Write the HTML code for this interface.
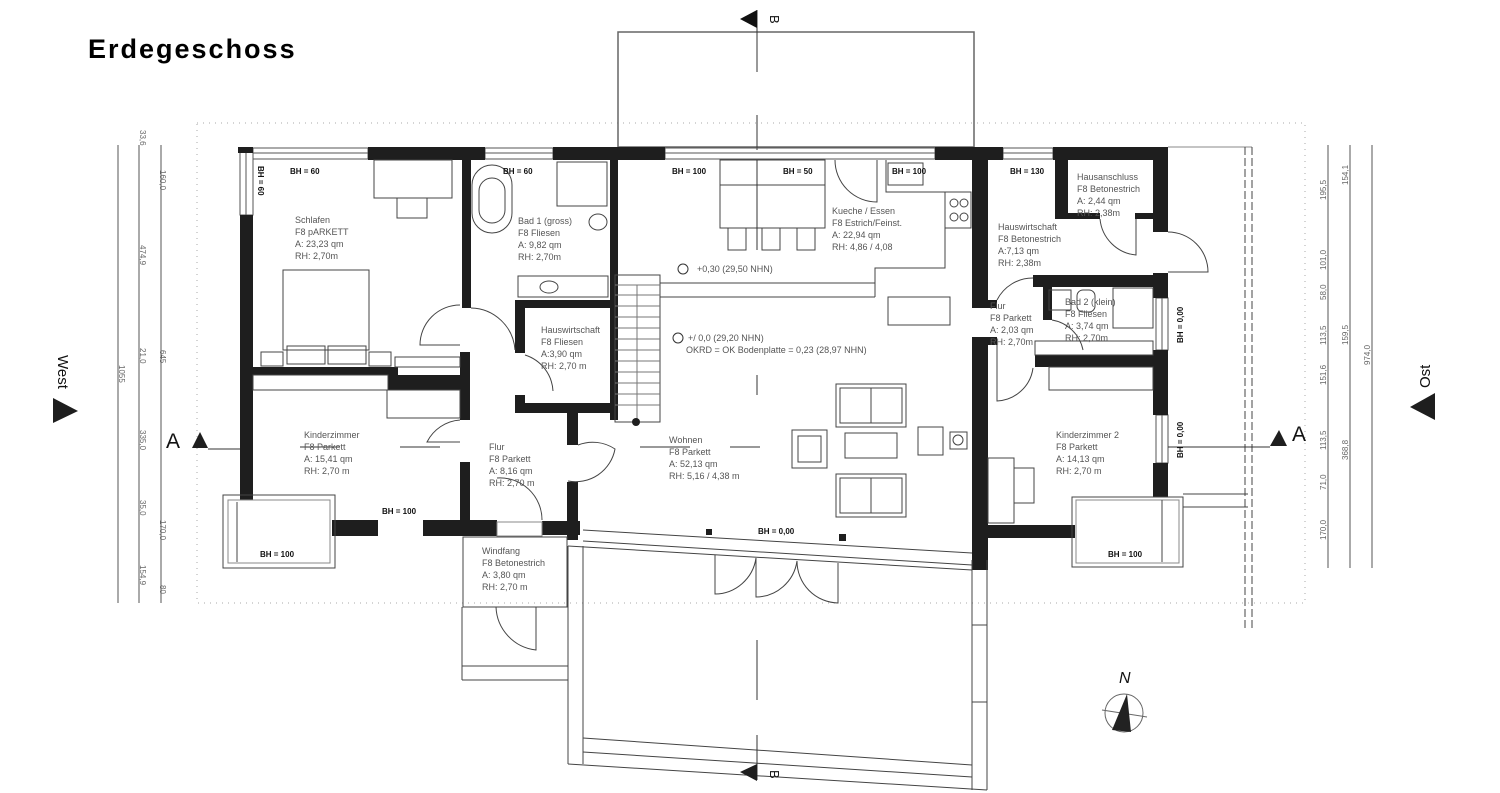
<!DOCTYPE html>
<html><head><meta charset="utf-8"><style>
html,body{margin:0;padding:0;background:#fff}
svg{display:block}
.t{font-family:"Liberation Sans",sans-serif;font-size:9px;fill:#555}
.bh{font-family:"Liberation Sans",sans-serif;font-size:8px;font-weight:bold;fill:#111}
.d{font-family:"Liberation Sans",sans-serif;font-size:8px;fill:#666}
</style></head><body>
<svg width="1500" height="793" viewBox="0 0 1500 793" xmlns="http://www.w3.org/2000/svg">
<rect width="1500" height="793" fill="#fff"/>
<text x="88" y="58" font-family="'Liberation Sans',sans-serif" font-size="27" font-weight="bold" letter-spacing="2" fill="#000">Erdegeschoss</text>

<rect x="197" y="123" width="1108" height="480" fill="none" stroke="#aaa" stroke-dasharray="1,5"/>

<rect x="618" y="32" width="356" height="115" fill="none" stroke="#666" stroke-width="1.5"/>
<line x1="757" y1="10" x2="757" y2="72" stroke="#333"/>
<line x1="757" y1="115" x2="757" y2="150" stroke="#333"/>
<polygon points="740,19 757,10 757,28" fill="#111"/>
<text x="766" y="19" font-family="'Liberation Sans',sans-serif" font-size="13" transform="rotate(90 770 19)" fill="#111">B</text>

<g fill="none" stroke="#555" stroke-width="1">
<rect x="253" y="148" width="115" height="11"/><line x1="253" y1="153" x2="368" y2="153"/>
<rect x="485" y="148" width="68" height="11"/><line x1="485" y1="153" x2="553" y2="153"/>
<rect x="665" y="148" width="270" height="11"/><line x1="665" y1="153" x2="935" y2="153"/>
<rect x="1003" y="148" width="50" height="11"/><line x1="1003" y1="153" x2="1053" y2="153"/>
<rect x="240" y="148" width="13" height="67"/><line x1="246" y1="148" x2="246" y2="215"/>
<rect x="1156" y="298" width="12" height="52"/><line x1="1162" y1="298" x2="1162" y2="350"/>
<rect x="1156" y="415" width="12" height="48"/><line x1="1162" y1="415" x2="1162" y2="463"/>
</g>

<g fill="#1e1e1e">
<rect x="238" y="147" width="15" height="6"/>
<rect x="368" y="147" width="117" height="13"/>
<rect x="553" y="147" width="112" height="13"/>
<rect x="935" y="147" width="68" height="13"/>
<rect x="1053" y="147" width="115" height="13"/>
<rect x="240" y="215" width="13" height="285"/>
<rect x="462" y="158" width="9" height="150"/>
<rect x="460" y="352" width="10" height="68"/>
<rect x="460" y="462" width="10" height="60"/>
<rect x="253" y="367" width="145" height="8"/>
<rect x="388" y="375" width="74" height="15"/>
<rect x="515" y="300" width="100" height="8"/>
<rect x="515" y="300" width="10" height="53"/>
<rect x="515" y="395" width="10" height="18"/>
<rect x="518" y="403" width="99" height="10"/>
<rect x="567" y="403" width="11" height="42"/>
<rect x="567" y="482" width="11" height="58"/>
<rect x="610" y="158" width="8" height="262"/>
<rect x="332" y="520" width="46" height="16"/>
<rect x="423" y="520" width="74" height="16"/>
<rect x="542" y="521" width="38" height="14"/>
<rect x="972" y="147" width="16" height="158"/>
<rect x="972" y="343" width="16" height="227"/>
<rect x="972" y="300" width="25" height="8"/>
<rect x="972" y="337" width="25" height="8"/>
<rect x="1055" y="147" width="13" height="72"/>
<rect x="1055" y="213" width="45" height="6"/>
<rect x="1135" y="213" width="33" height="6"/>
<rect x="1153" y="147" width="15" height="85"/>
<rect x="1153" y="273" width="15" height="25"/>
<rect x="1153" y="350" width="15" height="65"/>
<rect x="1153" y="463" width="15" height="34"/>
<rect x="1033" y="275" width="135" height="12"/>
<rect x="1043" y="287" width="9" height="33"/>
<rect x="1035" y="355" width="133" height="12"/>
<rect x="988" y="525" width="87" height="13"/>
</g>

<g fill="none" stroke="#444">
<rect x="223" y="495" width="112" height="73"/><rect x="228" y="500" width="102" height="63" stroke="#888"/>
<line x1="237" y1="502" x2="237" y2="562"/>
<rect x="1072" y="497" width="111" height="70"/><rect x="1076" y="500" width="103" height="63" stroke="#888"/>
<line x1="1162" y1="500" x2="1162" y2="562"/>
<line x1="1168" y1="147" x2="1252" y2="147" stroke="#888"/>
<line x1="1245" y1="147" x2="1245" y2="630" stroke-dasharray="8,3"/>
<line x1="1252" y1="147" x2="1252" y2="630" stroke-dasharray="8,3"/>
<line x1="1183" y1="494" x2="1248" y2="494"/>
<line x1="1183" y1="507" x2="1248" y2="507"/>
<line x1="583" y1="530" x2="972" y2="553"/>
<line x1="583" y1="541" x2="972" y2="565"/>
<line x1="568" y1="546" x2="972" y2="570"/>
<line x1="568" y1="546" x2="568" y2="764"/>
<line x1="583" y1="546" x2="583" y2="764"/>
<line x1="972" y1="560" x2="972" y2="790"/>
<line x1="987" y1="560" x2="987" y2="790"/>
<line x1="583" y1="738" x2="972" y2="765"/>
<line x1="583" y1="752" x2="972" y2="777"/>
<line x1="568" y1="764" x2="987" y2="790"/>
<line x1="972" y1="625" x2="987" y2="625"/>
<line x1="972" y1="702" x2="987" y2="702"/>
<rect x="463" y="537" width="104" height="70"/>
<line x1="462" y1="607" x2="462" y2="680"/>
<line x1="462" y1="666" x2="568" y2="666"/>
<line x1="462" y1="680" x2="568" y2="680"/>
<path d="M496 607 A45 45 0 0 0 536 650 L536 607"/>
<rect x="497" y="522" width="45" height="14" stroke="#888"/>
<path d="M715 555 L715 594 A42 42 0 0 0 756 558"/>
<path d="M756 558 L756 597 A42 42 0 0 0 797 561"/>
<path d="M797 561 A42 42 0 0 0 838 603 L838 563"/>
<path d="M471 308 A45 45 0 0 1 515 350"/>
<path d="M460 305 A40 40 0 0 0 420 345 L460 345"/>
<path d="M460 420 A40 40 0 0 0 427 442 L460 442"/>
<path d="M578 445 A40 40 0 0 1 615 449 A40 40 0 0 1 568 481"/>
<path d="M497 478 A42 42 0 0 1 542 520"/>
<path d="M525 355 A40 40 0 0 1 553 391"/>
<path d="M835 160 A42 42 0 0 0 877 202 L877 160"/>
<path d="M1100 219 A40 40 0 0 0 1136 255 L1136 219"/>
<path d="M1168 232 A40 40 0 0 1 1208 272 L1168 272"/>
<path d="M997 345 L997 401 A38 38 0 0 0 1033 368"/>
<path d="M997 300 A40 40 0 0 1 1033 278"/>
<path d="M1052 320 A38 38 0 0 1 1083 350"/>
<rect x="374" y="160" width="78" height="38"/>
<rect x="397" y="198" width="30" height="20"/>
<rect x="283" y="270" width="86" height="80"/>
<rect x="287" y="346" width="38" height="18"/><rect x="328" y="346" width="38" height="18"/>
<rect x="261" y="352" width="22" height="14"/><rect x="369" y="352" width="22" height="14"/>
<rect x="395" y="357" width="65" height="10"/>
<rect x="253" y="375" width="135" height="15"/>
<rect x="387" y="390" width="73" height="28"/>
<rect x="472" y="165" width="40" height="68" rx="20"/>
<rect x="479" y="178" width="26" height="45" rx="13"/>
<rect x="557" y="162" width="50" height="44"/>
<rect x="518" y="276" width="90" height="21"/>
<ellipse cx="549" cy="287" rx="9" ry="6"/>
<ellipse cx="598" cy="222" rx="9" ry="8"/>
<rect x="615" y="275" width="45" height="147"/>
<g stroke="#777">
<line x1="615" y1="285" x2="660" y2="285"/><line x1="615" y1="295" x2="660" y2="295"/><line x1="615" y1="306" x2="660" y2="306"/><line x1="615" y1="317" x2="660" y2="317"/><line x1="615" y1="328" x2="660" y2="328"/><line x1="615" y1="339" x2="660" y2="339"/><line x1="615" y1="350" x2="660" y2="350"/><line x1="615" y1="361" x2="660" y2="361"/><line x1="615" y1="372" x2="660" y2="372"/><line x1="615" y1="383" x2="660" y2="383"/><line x1="615" y1="394" x2="660" y2="394"/><line x1="615" y1="405" x2="660" y2="405"/>
<line x1="637" y1="285" x2="637" y2="420"/>
</g>
<line x1="660" y1="297" x2="875" y2="297"/>
<line x1="660" y1="283" x2="875" y2="283"/>
<rect x="888" y="297" width="62" height="28"/>
<rect x="720" y="160" width="105" height="25"/>
<rect x="720" y="185" width="105" height="43"/>
<rect x="728" y="228" width="18" height="22"/><rect x="762" y="228" width="18" height="22"/><rect x="797" y="228" width="18" height="22"/>
<polyline points="886,160 886,192 945,192 945,268 875,268 875,297"/>
<rect x="888" y="163" width="35" height="22"/>
<rect x="945" y="192" width="26" height="36"/>
<circle cx="954" cy="203" r="4"/><circle cx="954" cy="217" r="4"/><circle cx="964" cy="203" r="4"/><circle cx="964" cy="217" r="4"/>
<rect x="836" y="384" width="70" height="43"/><rect x="840" y="388" width="62" height="35"/><line x1="871" y1="388" x2="871" y2="423"/>
<rect x="836" y="474" width="70" height="43"/><rect x="840" y="478" width="62" height="35"/><line x1="871" y1="478" x2="871" y2="513"/>
<rect x="792" y="430" width="35" height="38"/><rect x="798" y="436" width="23" height="26"/>
<rect x="845" y="433" width="52" height="25"/>
<rect x="918" y="427" width="25" height="28"/>
<rect x="950" y="432" width="17" height="17"/><circle cx="958" cy="440" r="5"/>
<rect x="1049" y="290" width="22" height="20"/><rect x="1077" y="290" width="18" height="22" rx="6"/>
<rect x="1113" y="288" width="40" height="40"/>
<rect x="1035" y="341" width="118" height="14"/>
<rect x="1049" y="367" width="104" height="23"/>
<rect x="988" y="458" width="26" height="65"/><rect x="1014" y="468" width="20" height="35"/>
</g>
<g stroke="#333" stroke-width="1">
<line x1="208" y1="449" x2="240" y2="449"/>
<line x1="1168" y1="447" x2="1270" y2="447"/>
<line x1="757" y1="160" x2="757" y2="250"/>
<line x1="757" y1="375" x2="757" y2="395"/>
<line x1="757" y1="640" x2="757" y2="700"/>
<line x1="757" y1="735" x2="757" y2="780"/>
<line x1="300" y1="447" x2="340" y2="447"/>
<line x1="400" y1="447" x2="440" y2="447"/>
<line x1="640" y1="447" x2="690" y2="447"/>
<line x1="730" y1="447" x2="760" y2="447"/>
</g>
<g fill="#1e1e1e">
<polygon points="192,448 208,448 200,432"/>
<polygon points="1270,446 1287,446 1279,430"/>
<polygon points="740,772 757,764 757,781"/>
<polygon points="53,398 53,423 78,411"/>
<polygon points="1435,393 1435,420 1410,407"/>
<circle cx="636" cy="422" r="4"/>
<rect x="706" y="529" width="6" height="6"/><rect x="839" y="534" width="7" height="7"/>
</g>
<text x="166" y="448" font-family="'Liberation Sans',sans-serif" font-size="21" fill="#111">A</text>
<text x="1292" y="441" font-family="'Liberation Sans',sans-serif" font-size="21" fill="#111">A</text>
<text x="766" y="774" font-family="'Liberation Sans',sans-serif" font-size="13" transform="rotate(90 770 774)" fill="#111">B</text>
<text x="58" y="355" font-family="'Liberation Sans',sans-serif" font-size="15" transform="rotate(90 58 355)" fill="#111">West</text>
<text x="1430" y="388" font-family="'Liberation Sans',sans-serif" font-size="15" transform="rotate(-90 1430 388)" fill="#111">Ost</text>

<g stroke="#555">
<line x1="118" y1="145" x2="118" y2="603"/><line x1="139" y1="145" x2="139" y2="603"/><line x1="161" y1="145" x2="161" y2="603"/>
<line x1="1328" y1="145" x2="1328" y2="568"/><line x1="1350" y1="145" x2="1350" y2="568"/><line x1="1372" y1="145" x2="1372" y2="568"/>
</g>
<g class="d">
<text x="140" y="130" transform="rotate(90 140 130)">33,6</text>
<text x="160" y="170" transform="rotate(90 160 170)">160,0</text>
<text x="140" y="245" transform="rotate(90 140 245)">474,9</text>
<text x="140" y="348" transform="rotate(90 140 348)">21,0</text>
<text x="160" y="350" transform="rotate(90 160 350)">645</text>
<text x="119" y="365" transform="rotate(90 119 365)">1055</text>
<text x="140" y="430" transform="rotate(90 140 430)">335,0</text>
<text x="140" y="500" transform="rotate(90 140 500)">35,0</text>
<text x="160" y="520" transform="rotate(90 160 520)">170,0</text>
<text x="140" y="565" transform="rotate(90 140 565)">154,9</text>
<text x="160" y="585" transform="rotate(90 160 585)">80</text>
<text x="1326" y="200" transform="rotate(-90 1326 200)">195,5</text>
<text x="1348" y="185" transform="rotate(-90 1348 185)">154,1</text>
<text x="1326" y="270" transform="rotate(-90 1326 270)">101,0</text>
<text x="1326" y="300" transform="rotate(-90 1326 300)">58,0</text>
<text x="1326" y="345" transform="rotate(-90 1326 345)">113,5</text>
<text x="1326" y="385" transform="rotate(-90 1326 385)">151,6</text>
<text x="1326" y="450" transform="rotate(-90 1326 450)">113,5</text>
<text x="1326" y="490" transform="rotate(-90 1326 490)">71,0</text>
<text x="1326" y="540" transform="rotate(-90 1326 540)">170,0</text>
<text x="1370" y="365" transform="rotate(-90 1370 365)">974,0</text>
<text x="1348" y="460" transform="rotate(-90 1348 460)">368,8</text>
<text x="1348" y="345" transform="rotate(-90 1348 345)">159,5</text>
</g>

<g class="bh">
<text x="290" y="174">BH = 60</text>
<text x="503" y="174">BH = 60</text>
<text x="672" y="174">BH = 100</text>
<text x="783" y="174">BH = 50</text>
<text x="892" y="174">BH = 100</text>
<text x="1010" y="174">BH = 130</text>
<text x="258" y="166" transform="rotate(90 258 166)">BH = 60</text>
<text x="382" y="514">BH = 100</text>
<text x="260" y="557">BH = 100</text>
<text x="1108" y="557">BH = 100</text>
<text x="758" y="534">BH = 0,00</text>
<text x="1183" y="343" transform="rotate(-90 1183 343)">BH = 0,00</text>
<text x="1183" y="458" transform="rotate(-90 1183 458)">BH = 0,00</text>
</g>

<g class="t">
<text x="295" y="223">Schlafen</text><text x="295" y="235">F8    pARKETT</text><text x="295" y="247">A: 23,23 qm</text><text x="295" y="259">RH: 2,70m</text>
<text x="518" y="224">Bad 1 (gross)</text><text x="518" y="236">F8    Fliesen</text><text x="518" y="248">A: 9,82 qm</text><text x="518" y="260">RH: 2,70m</text>
<text x="541" y="333">Hauswirtschaft</text><text x="541" y="345">F8    Fliesen</text><text x="541" y="357">A:3,90 qm</text><text x="541" y="369">RH: 2,70 m</text>
<text x="304" y="438">Kinderzimmer</text><text x="304" y="450">F8    Parkett</text><text x="304" y="462">A: 15,41 qm</text><text x="304" y="474">RH: 2,70 m</text>
<text x="489" y="450">Flur</text><text x="489" y="462">F8    Parkett</text><text x="489" y="474">A: 8,16  qm</text><text x="489" y="486">RH: 2,70 m</text>
<text x="482" y="554">Windfang</text><text x="482" y="566">F8    Betonestrich</text><text x="482" y="578">A: 3,80  qm</text><text x="482" y="590">RH: 2,70 m</text>
<text x="832" y="214">Kueche / Essen</text><text x="832" y="226">F8    Estrich/Feinst.</text><text x="832" y="238">A: 22,94 qm</text><text x="832" y="250">RH: 4,86 / 4,08</text>
<text x="669" y="443">Wohnen</text><text x="669" y="455">F8    Parkett</text><text x="669" y="467">A: 52,13 qm</text><text x="669" y="479">RH: 5,16 / 4,38 m</text>
<text x="697" y="272">+0,30 (29,50 NHN)</text>
<text x="688" y="341">+/   0,0 (29,20 NHN)</text>
<text x="686" y="353">OKRD = OK Bodenplatte =    0,23 (28,97 NHN)</text>
<text x="1077" y="180">Hausanschluss</text><text x="1077" y="192">F8    Betonestrich</text><text x="1077" y="204">A: 2,44 qm</text><text x="1077" y="216">RH: 2,38m</text>
<text x="998" y="230">Hauswirtschaft</text><text x="998" y="242">F8    Betonestrich</text><text x="998" y="254">A:7,13 qm</text><text x="998" y="266">RH: 2,38m</text>
<text x="990" y="309">Flur</text><text x="990" y="321">F8    Parkett</text><text x="990" y="333">A: 2,03 qm</text><text x="990" y="345">RH: 2,70m</text>
<text x="1065" y="305">Bad 2 (klein)</text><text x="1065" y="317">F8    Fliesen</text><text x="1065" y="329">A: 3,74 qm</text><text x="1065" y="341">RH: 2,70m</text>
<text x="1056" y="438">Kinderzimmer 2</text><text x="1056" y="450">F8    Parkett</text><text x="1056" y="462">A: 14,13 qm</text><text x="1056" y="474">RH: 2,70 m</text>
</g>
<g fill="none" stroke="#333"><circle cx="683" cy="269" r="5"/><circle cx="678" cy="338" r="5"/></g>

<text x="1119" y="683" font-family="'Liberation Sans',sans-serif" font-size="16" font-style="italic" fill="#111">N</text>
<circle cx="1124" cy="713" r="19" fill="none" stroke="#666"/>
<line x1="1102" y1="710" x2="1147" y2="717" stroke="#666"/>
<polygon points="1127,694 1112,730 1131,732" fill="#222"/>
</svg>
</body></html>
